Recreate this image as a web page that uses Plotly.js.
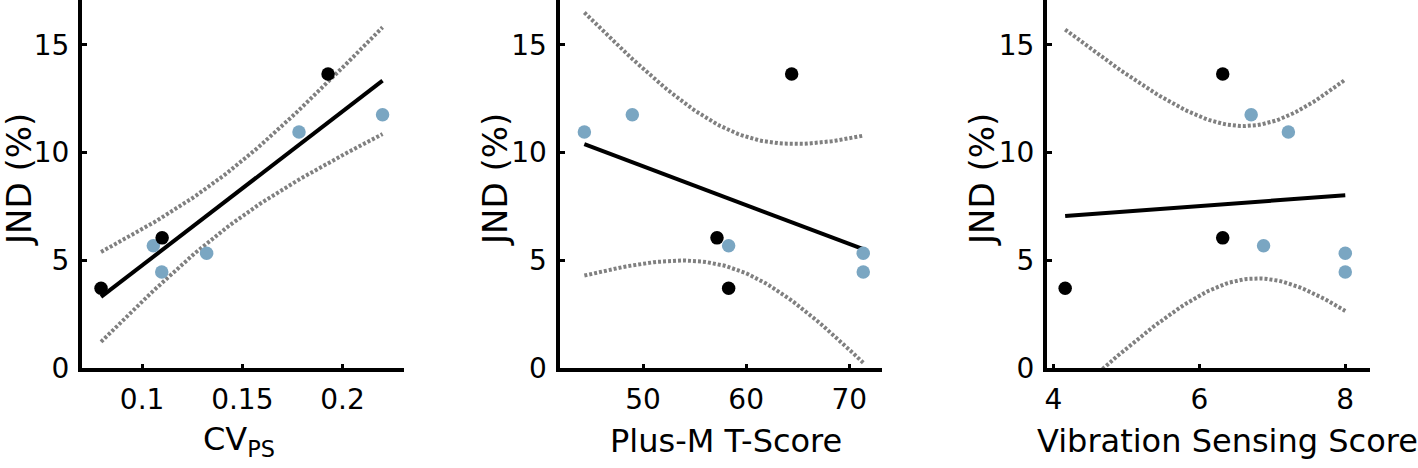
<!DOCTYPE html>
<html>
<head>
<meta charset="utf-8">
<script src="https://cdn.plot.ly/plotly-3.0.1.min.js"></script>
<style>html,body{margin:0;padding:0;background:#fff;}#chart{width:1418px;height:468px;}</style>
</head>
<body>
<div id="chart"></div>
<script>
// ---- data (same 8 participants in every panel) ----
const JND    = [3.70, 6.04, 13.65, 5.67, 4.46, 5.33, 10.95, 11.75];
const GROUP  = ['black', 'black', 'black', 'blue', 'blue', 'blue', 'blue', 'blue'];
const CV_PS  = [0.0795, 0.110, 0.1928, 0.1056, 0.1098, 0.1322, 0.1783, 0.220];
const PLUS_M = [58.3, 57.17, 64.41, 58.3, 71.35, 71.35, 44.31, 48.96];
const VIB    = [4.16, 6.32, 6.32, 6.88, 8.0, 8.0, 7.22, 6.71];

const Y_TICKS = [0, 5, 10, 15];
const X1_TICKS = [0.1, 0.15, 0.2];
const X1_LABELS = ['0.1', '0.15', '0.2'];
const X2_TICKS = [50, 60, 70];
const X3_TICKS = [4, 6, 8];
const X_TITLES = ['CV<sub>PS</sub>', 'Plus-M T-Score', 'Vibration Sensing Score'];
const Y_TITLE = 'JND (%)';

// ---- styling ----
const BLUE = '#7aa6c2';
const GRAY = '#808080';
const FONT = 'DejaVu Sans, Verdana, sans-serif';
const W = 1418, H = 468, B = 100;

// ordinary least squares fit with 95% confidence band of the mean
function fitWithCI(x, y, steps) {
  const n = x.length;
  const mx = x.reduce((a, b) => a + b, 0) / n;
  const my = y.reduce((a, b) => a + b, 0) / n;
  let sxx = 0, sxy = 0;
  for (let i = 0; i < n; i++) { sxx += (x[i] - mx) ** 2; sxy += (x[i] - mx) * (y[i] - my); }
  const b1 = sxy / sxx, b0 = my - b1 * mx;
  let sse = 0;
  for (let i = 0; i < n; i++) sse += (y[i] - b0 - b1 * x[i]) ** 2;
  const s = Math.sqrt(sse / (n - 2));
  const t = 2.4469; // t(0.975, df = 6)
  const lo = Math.min(...x), hi = Math.max(...x);
  const xs = [], fit = [], up = [], dn = [];
  for (let k = 0; k <= steps; k++) {
    const xv = lo + (hi - lo) * k / steps;
    const f = b0 + b1 * xv;
    const se = s * Math.sqrt(1 / n + (xv - mx) ** 2 / sxx);
    xs.push(xv); fit.push(f); up.push(f + t * se); dn.push(f - t * se);
  }
  return {xs, fit, up, dn};
}

function pick(arr, g) { return arr.filter((_, i) => GROUP[i] === g); }

const panels = [
  {x: CV_PS,  xa: 'x',  ya: 'y',  order: ['blue', 'black']},
  {x: PLUS_M, xa: 'x2', ya: 'y2', order: ['black', 'blue']},
  {x: VIB,    xa: 'x3', ya: 'y3', order: ['blue', 'black']},
];

const traces = [];
panels.forEach(p => {
  const f = fitWithCI(p.x, JND, 80);
  [f.up, f.dn].forEach(band => traces.push({
    type: 'scatter', mode: 'lines', x: f.xs, y: band, xaxis: p.xa, yaxis: p.ya,
    line: {color: GRAY, width: 4, dash: '3px,2px'}, hoverinfo: 'skip', showlegend: false
  }));
  traces.push({
    type: 'scatter', mode: 'lines', x: f.xs, y: f.fit, xaxis: p.xa, yaxis: p.ya,
    line: {color: '#000000', width: 4}, hoverinfo: 'skip', showlegend: false
  });
  p.order.forEach(g => traces.push({
    type: 'scatter', mode: 'markers', x: pick(p.x, g), y: pick(JND, g),
    xaxis: p.xa, yaxis: p.ya, cliponaxis: false,
    marker: {size: 13.5, color: g === 'black' ? '#000000' : BLUE, line: {width: 0}},
    showlegend: false
  }));
});

const px = v => v / W;
const py = v => (H - B - v) / (H - B);

function xAxis(domain, range, tickvals, ticktext, anchor) {
  const a = {
    domain: domain, range: range, anchor: anchor,
    showline: true, linecolor: '#000', linewidth: 4,
    ticks: 'inside', ticklen: 4, tickwidth: 3, tickcolor: '#000',
    tickvals: tickvals, showgrid: false, zeroline: false,
    tickfont: {family: FONT, size: 28, color: '#000'}, ticklabelstandoff: 3
  };
  if (ticktext) a.ticktext = ticktext;
  return a;
}
function yAxis(anchor) {
  return {
    domain: [0, 1], range: [0, 17.08], anchor: anchor,
    showline: true, linecolor: '#000', linewidth: 4,
    ticks: 'inside', ticklen: 5, tickwidth: 3, tickcolor: '#000',
    tickvals: Y_TICKS, showgrid: false, zeroline: false,
    tickfont: {family: FONT, size: 28, color: '#000'}, ticklabelstandoff: 3
  };
}

const titleFont = {family: FONT, size: 32, color: '#000'};
const yTitleFont = {family: FONT, size: 34, color: '#000'};
const annotations = [
  {text: X_TITLES[0], x: px(201), y: py(441), xanchor: 'left', yanchor: 'middle'},
  {text: X_TITLES[1], x: px(608), y: py(441), xanchor: 'left', yanchor: 'middle'},
  {text: X_TITLES[2], x: px(1035), y: py(441), xanchor: 'left', yanchor: 'middle'},
  {text: Y_TITLE, x: px(19), y: py(180), textangle: -90, xanchor: 'center', yanchor: 'middle', font: yTitleFont},
  {text: Y_TITLE, x: px(495), y: py(180), textangle: -90, xanchor: 'center', yanchor: 'middle', font: yTitleFont},
  {text: Y_TITLE, x: px(982), y: py(180), textangle: -90, xanchor: 'center', yanchor: 'middle', font: yTitleFont},
].map(a => Object.assign({xref: 'paper', yref: 'paper', showarrow: false, font: titleFont}, a));

const layout = {
  width: W, height: H,
  margin: {l: 0, r: 0, t: 0, b: B},
  paper_bgcolor: '#fff', plot_bgcolor: '#fff',
  showlegend: false,
  xaxis:  xAxis([px(82), px(404)], [0.07, 0.2307], X1_TICKS, X1_LABELS, 'y'),
  xaxis2: xAxis([px(559.5), px(881.7)], [41.9, 73.14], X2_TICKS, null, 'y2'),
  xaxis3: xAxis([px(1047), px(1370)], [3.911, 8.339], X3_TICKS, null, 'y3'),
  yaxis:  yAxis('x'),
  yaxis2: yAxis('x2'),
  yaxis3: yAxis('x3'),
  annotations: annotations
};

Plotly.newPlot('chart', traces, layout, {displayModeBar: false, staticPlot: true});
</script>
</body>
</html>
